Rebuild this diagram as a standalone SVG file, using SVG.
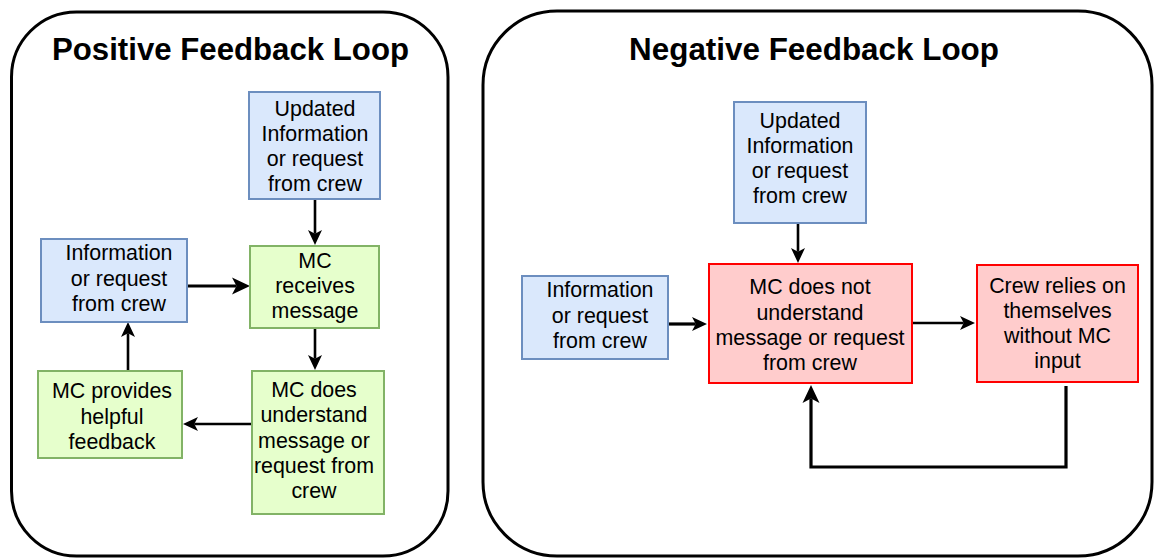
<svg xmlns="http://www.w3.org/2000/svg" width="1154" height="558" viewBox="0 0 1154 558">
  <style>
    .panel { fill: #ffffff; stroke: #000000; stroke-width: 3; }
    .title { font-family: "Liberation Sans", Arial, sans-serif; font-weight: bold; fill: #000000; text-anchor: middle; }
    .lbl { font-family: "Liberation Sans", Arial, sans-serif; font-size: 21.4px; fill: #000000; text-anchor: middle; }
    .blue { fill: #dae8fc; stroke: #6c8ebf; stroke-width: 2; }
    .green { fill: #e6ffcc; stroke: #82b366; stroke-width: 2; }
    .red { fill: #ffcccc; stroke: #ff0000; stroke-width: 2; }
    .edge { fill: none; stroke: #000000; stroke-width: 2.6; }
    .edge-bold { fill: none; stroke: #000000; stroke-width: 3.2; }
  </style>
  <defs>
    <marker id="arr" markerUnits="userSpaceOnUse" viewBox="0 0 15 15" markerWidth="15" markerHeight="15" refX="3.75" refY="7.5" orient="auto">
      <path d="M0,0.5 L15,7.5 L0,14.5 L3.75,7.5 Z" fill="#000000"/>
    </marker>
    <marker id="arrL" markerUnits="userSpaceOnUse" viewBox="0 0 18 18" markerWidth="18" markerHeight="18" refX="4.5" refY="9" orient="auto">
      <path d="M0,0.5 L18,9 L0,17.5 L4.5,9 Z" fill="#000000"/>
    </marker>
  </defs>

  <!-- Left panel: positive loop -->
  <g id="panel-positive">
    <rect class="panel" x="11.5" y="12" width="436.5" height="544" rx="65" ry="65"/>
    <text class="title" x="230.5" y="60" font-size="31.2">Positive Feedback Loop</text>
  </g>

  <!-- Right panel: negative loop -->
  <g id="panel-negative">
    <rect class="panel" x="483" y="11" width="669" height="545" rx="74" ry="74"/>
    <text class="title" x="814" y="60" font-size="31.4">Negative Feedback Loop</text>
  </g>

  <!-- Connectors -->
  <g id="connectors">
    <path class="edge" d="M315,199 V233.75" marker-end="url(#arr)"/>
    <path class="edge-bold" d="M187,286 H236.5" marker-end="url(#arrL)"/>
    <path class="edge" d="M315,328 V358.75" marker-end="url(#arr)"/>
    <path class="edge" d="M252,424 H194.25" marker-end="url(#arr)"/>
    <path class="edge" d="M128,371 V333.25" marker-end="url(#arr)"/>

    <path class="edge" d="M798,223 V251.75" marker-end="url(#arr)"/>
    <path class="edge-bold" d="M668,324 H695.75" marker-end="url(#arr)"/>
    <path class="edge" d="M913,323 H963.75" marker-end="url(#arr)"/>
    <path class="edge-bold" d="M1066,386 V467 H811 V398.5" marker-end="url(#arrL)"/>
  </g>

  <!-- Positive loop nodes -->
  <g id="p-updated">
    <rect class="blue" x="249" y="92" width="131" height="107"/>
    <text class="lbl" x="315" y="115.5">Updated</text>
    <text class="lbl" x="315" y="140.5">Information</text>
    <text class="lbl" x="315" y="165.5">or request</text>
    <text class="lbl" x="315" y="190.5">from crew</text>
  </g>
  <g id="p-receives">
    <rect class="green" x="250" y="246" width="129" height="82"/>
    <text class="lbl" x="315" y="268">MC</text>
    <text class="lbl" x="315" y="293">receives</text>
    <text class="lbl" x="315" y="318">message</text>
  </g>
  <g id="p-info">
    <rect class="blue" x="41" y="239" width="146" height="83"/>
    <text class="lbl" x="119" y="260">Information</text>
    <text class="lbl" x="119" y="286">or request</text>
    <text class="lbl" x="119" y="311">from crew</text>
  </g>
  <g id="p-feedback">
    <rect class="green" x="38" y="371" width="144" height="87"/>
    <text class="lbl" x="112" y="398">MC provides</text>
    <text class="lbl" x="112" y="424">helpful</text>
    <text class="lbl" x="112" y="449">feedback</text>
  </g>
  <g id="p-understands">
    <rect class="green" x="252" y="371" width="132" height="143"/>
    <text class="lbl" x="314" y="397">MC does</text>
    <text class="lbl" x="314" y="422">understand</text>
    <text class="lbl" x="314" y="448">message or</text>
    <text class="lbl" x="314" y="473">request from</text>
    <text class="lbl" x="314" y="498">crew</text>
  </g>

  <!-- Negative loop nodes -->
  <g id="n-updated">
    <rect class="blue" x="734" y="102" width="132" height="121"/>
    <text class="lbl" x="800" y="128">Updated</text>
    <text class="lbl" x="800" y="153">Information</text>
    <text class="lbl" x="800" y="178">or request</text>
    <text class="lbl" x="800" y="203">from crew</text>
  </g>
  <g id="n-info">
    <rect class="blue" x="522" y="276" width="146" height="83"/>
    <text class="lbl" x="600" y="297">Information</text>
    <text class="lbl" x="600" y="323">or request</text>
    <text class="lbl" x="600" y="348">from crew</text>
  </g>
  <g id="n-not-understand">
    <rect class="red" x="709" y="264" width="203" height="119"/>
    <text class="lbl" x="810" y="294">MC does not</text>
    <text class="lbl" x="810" y="320">understand</text>
    <text class="lbl" x="810" y="345">message or request</text>
    <text class="lbl" x="810" y="370">from crew</text>
  </g>
  <g id="n-crew">
    <rect class="red" x="977" y="265" width="161" height="117"/>
    <text class="lbl" x="1057.5" y="293">Crew relies on</text>
    <text class="lbl" x="1057.5" y="318">themselves</text>
    <text class="lbl" x="1057.5" y="343">without MC</text>
    <text class="lbl" x="1057.5" y="368">input</text>
  </g>
</svg>
